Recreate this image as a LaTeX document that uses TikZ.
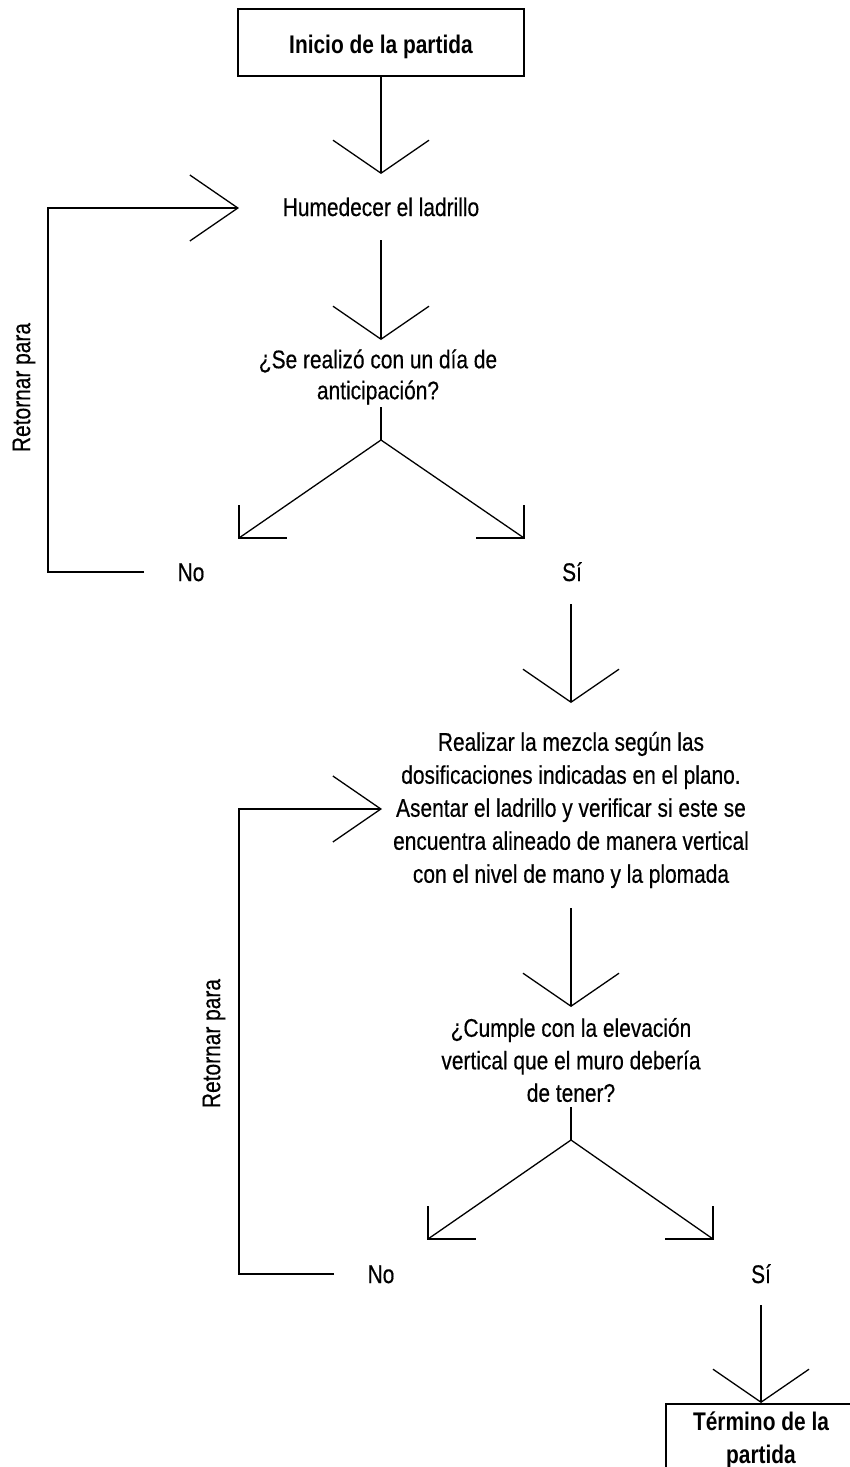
\documentclass[tikz,border=0pt]{standalone}
\usepackage{fontspec}
\setmainfont{Liberation Sans}[FakeStretch=0.82,UprightFeatures={FakeBold=0.4}]
\usetikzlibrary{arrows.meta}
\begin{document}
\begin{tikzpicture}[x=1pt,y=-1pt,
  conn/.style={line width=1.9pt},
  thinline/.style={line width=1.3pt},
  vflow/.style={conn,-{Straight Barb[length=33pt,width=96pt,line width=1.3pt]}},
  hflow/.style={conn,-{Straight Barb[length=48pt,width=66pt,line width=1.3pt]}},
  txt/.style={inner sep=0pt,align=center,font=\fontsize{25.5}{31}\selectfont},
  term/.style={draw,line width=2.2pt,inner sep=0pt,align=center,
    font=\fontsize{25.5}{33}\selectfont\bfseries}
]
\fill[white] (0,0) rectangle (850,1467);
\useasboundingbox (0,0) rectangle (850,1467);
\clip (0,0) rectangle (850,1467);

% start of the procedure
\node[term,minimum width=286pt,minimum height=67pt,text height=27pt,text depth=5.4pt]
  (start) at (381,42.5) {Inicio de la partida};
\coordinate (humTop) at (381,174);
\draw[vflow] (start) -- (humTop);

% wet the brick
\node[txt,anchor=base] (hum) at (381,216) {Humedecer el ladrillo};
\coordinate (humBot) at (381,240);
\coordinate (q1Top) at (381,340);
\draw[vflow] (humBot) -- (q1Top);

% first question
\node[txt] (q1) at (378,377) {¿Se realizó con un día de\\anticipación?};
\coordinate (q1Bot) at (381,407);
\coordinate (fork1) at (381,440);
\coordinate (no1Tip) at (239,538);
\coordinate (si1Tip) at (524,538);
\draw[conn] (q1Bot) -- (fork1);
\draw[thinline] (fork1) -- (no1Tip);
\draw[thinline] (fork1) -- (si1Tip);
\draw[conn] ([yshift=33pt]no1Tip) -- (no1Tip) -- ([xshift=48pt]no1Tip);
\draw[conn] ([yshift=33pt]si1Tip) -- (si1Tip) -- ([xshift=-48pt]si1Tip);
\node[txt,anchor=base] (no1) at (191,581) {No};
\node[txt,anchor=base] (si1) at (572,581) {Sí};

% loop back to wetting
\coordinate (loop1a) at (144,572);
\coordinate (loop1b) at (48,572);
\coordinate (loop1c) at (48,208);
\coordinate (humIn) at (239,208);
\draw[hflow] (loop1a) -- (loop1b) -- (loop1c) -- (humIn);
\node[txt,rotate=90] (ret1) at (24,387.5) {Retornar para};

% mixing and laying
\coordinate (si1Bot) at (571,604);
\coordinate (mixTop) at (571,703);
\draw[vflow] (si1Bot) -- (mixTop);
\node[txt,font=\fontsize{25.5}{33}\selectfont] (mix) at (571,810)
  {Realizar la mezcla según las\\dosificaciones indicadas en el plano.\\Asentar el ladrillo y verificar si este se\\encuentra alineado de manera vertical\\con el nivel de mano y la plomada};
\coordinate (mixBot) at (571,908);
\coordinate (q2Top) at (571,1007);
\draw[vflow] (mixBot) -- (q2Top);

% second question
\node[txt,font=\fontsize{25.5}{32.5}\selectfont] (q2) at (571,1060)
  {¿Cumple con la elevación\\vertical que el muro debería\\de tener?};
\coordinate (q2Bot) at (571,1107);
\coordinate (fork2) at (571,1140);
\coordinate (no2Tip) at (428,1239);
\coordinate (si2Tip) at (713,1239);
\draw[conn] (q2Bot) -- (fork2);
\draw[thinline] (fork2) -- (no2Tip);
\draw[thinline] (fork2) -- (si2Tip);
\draw[conn] ([yshift=33pt]no2Tip) -- (no2Tip) -- ([xshift=48pt]no2Tip);
\draw[conn] ([yshift=33pt]si2Tip) -- (si2Tip) -- ([xshift=-48pt]si2Tip);
\node[txt,anchor=base] (no2) at (381,1283) {No};
\node[txt,anchor=base] (si2) at (761,1283) {Sí};

% loop back to mixing
\coordinate (loop2a) at (334,1274);
\coordinate (loop2b) at (239,1274);
\coordinate (loop2c) at (239,809);
\coordinate (mixIn) at (382,809);
\draw[hflow] (loop2a) -- (loop2b) -- (loop2c) -- (mixIn);
\node[txt,rotate=90] (ret2) at (214,1043.5) {Retornar para};

% end of the procedure
\coordinate (si2Bot) at (761,1305);
\node[term,anchor=north,minimum width=190pt,inner ysep=8pt] (finish) at (761,1403)
  {Término de la\\partida};
\draw[vflow] (si2Bot) -- (finish);
\end{tikzpicture}
\end{document}
